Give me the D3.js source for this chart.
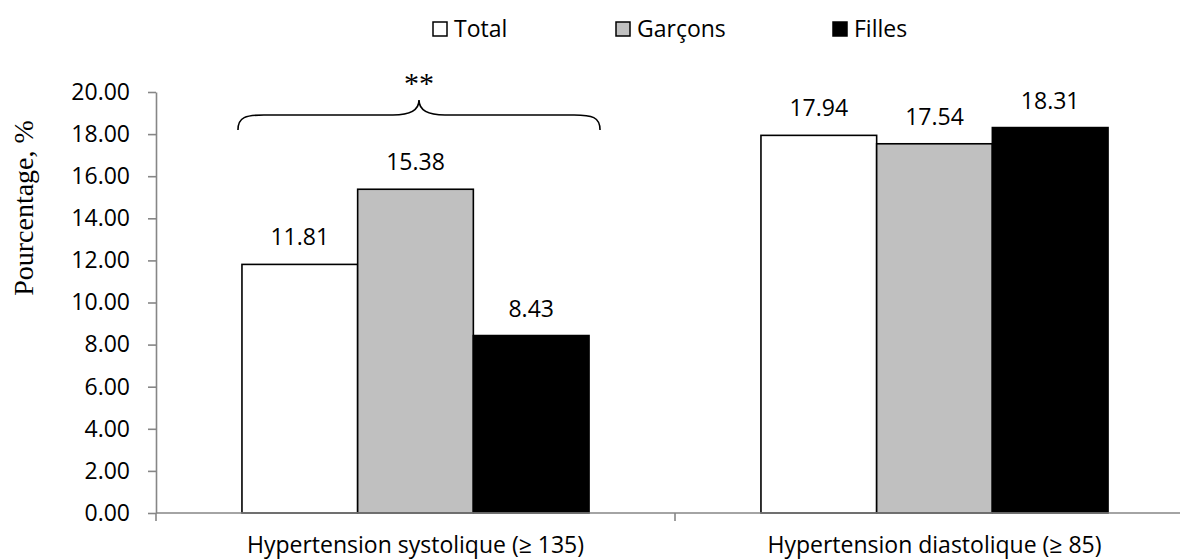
<!DOCTYPE html>
<html>
<head>
<meta charset="utf-8">
<script src="https://cdn.jsdelivr.net/npm/d3@7"></script>
<style>
  html, body { margin: 0; padding: 0; background: #fff; }
  svg { display: block; }
  .tick text, .lbl { font-family: "Open Sans", sans-serif; }
</style>
</head>
<body>
<svg id="chart" width="1180" height="560"></svg>
<script>
// Prevalence of hypertension by sex
const categories = ["Hypertension systolique (\u2265 135)", "Hypertension diastolique (\u2265 85)"];
const seriesNames = ["Total", "Garçons", "Filles"];
const totalValues = [11.81, 17.94];
const garconsValues = [15.38, 17.54];
const fillesValues = [8.43, 18.31];
const yTickValues = [0, 2, 4, 6, 8, 10, 12, 14, 16, 18, 20];
const yTitle = "Pourcentage, %";
const significance = "**";

const seriesValues = [totalValues, garconsValues, fillesValues];
const fills = { "Total": "#ffffff", "Garçons": "#c0c0c0", "Filles": "#000000" };

const svg = d3.select("#chart");
const plotLeft = 156, plotRight = 1194, plotTop = 92, plotBottom = 513;
const fontSize = 23;

const x0 = d3.scaleBand().domain(categories).range([plotLeft, plotRight]).paddingInner(0).paddingOuter(0);
const x1 = d3.scaleBand().domain(seriesNames).range([0, x0.bandwidth()]).paddingInner(0).paddingOuter(0.743);
const y = d3.scaleLinear().domain([0, 20]).range([plotBottom, plotTop]);

const rows = [];
categories.forEach((c, i) => {
  seriesNames.forEach((s, j) => rows.push({ cat: c, series: s, value: seriesValues[j][i] }));
});

// bars
svg.append("g").selectAll("rect").data(rows).join("rect")
  .attr("x", d => x0(d.cat) + x1(d.series))
  .attr("y", d => y(d.value))
  .attr("width", x1.bandwidth())
  .attr("height", d => y(0) - y(d.value))
  .attr("fill", d => fills[d.series])
  .attr("stroke", "#000")
  .attr("stroke-width", 1.6);

// value labels
svg.append("g").selectAll("text").data(rows).join("text")
  .attr("class", "lbl")
  .attr("x", d => x0(d.cat) + x1(d.series) + x1.bandwidth() / 2)
  .attr("y", d => y(d.value) - 19)
  .attr("text-anchor", "middle")
  .attr("font-size", fontSize)
  .attr("fill", "#000")
  .text(d => d.value.toFixed(2));

// y axis
const yAxis = svg.append("g").attr("transform", `translate(${plotLeft},0)`)
  .call(d3.axisLeft(y).tickValues(yTickValues).tickFormat(d3.format(".2f")).tickSize(8).tickSizeOuter(0).tickPadding(18));
yAxis.selectAll("path, line").attr("stroke", "#868686").attr("stroke-width", 1.6);
yAxis.selectAll("text").attr("font-size", fontSize).attr("fill", "#000");

// x axis: baseline, boundary ticks, category labels
const xAxis = svg.append("g").attr("transform", `translate(0,${plotBottom})`)
  .call(d3.axisBottom(x0).tickSize(0).tickPadding(24));
xAxis.select("path.domain").remove();
xAxis.selectAll("text").attr("font-size", fontSize).attr("fill", "#000");
const bounds = categories.map(c => x0(c)).concat([x0.range()[1]]);
xAxis.append("line").attr("x1", plotLeft).attr("x2", plotRight).attr("y1", 0).attr("y2", 0)
  .attr("stroke", "#868686").attr("stroke-width", 1.6);
xAxis.selectAll("line.bound").data(bounds).join("line").attr("class", "bound")
  .attr("x1", d => d).attr("x2", d => d).attr("y1", 0).attr("y2", 8)
  .attr("stroke", "#868686").attr("stroke-width", 1.6);

// y axis title
svg.append("text")
  .attr("transform", "translate(33,208) rotate(-90)")
  .attr("text-anchor", "middle")
  .attr("font-family", "'Liberation Serif', 'Times New Roman', serif")
  .attr("font-size", 28)
  .attr("fill", "#000")
  .text(yTitle);

// significance brace over the first group
const g0 = categories[0];
const bx1 = x0(g0) + x1(seriesNames[0]) - 4;
const bx2 = x0(g0) + x1(seriesNames[2]) + x1.bandwidth() + 11;
const bmid = (bx1 + bx2) / 2;
const yEnd = 130, yFlat = 115, yTip = 100;
const brace = d3.path();
brace.moveTo(bx1, yEnd);
brace.bezierCurveTo(bx1, yFlat + 2, bx1 + 8, yFlat, bx1 + 26, yFlat);
brace.lineTo(bmid - 26, yFlat);
brace.bezierCurveTo(bmid - 8, yFlat, bmid, yFlat - 5, bmid, yTip);
brace.bezierCurveTo(bmid, yFlat - 5, bmid + 8, yFlat, bmid + 26, yFlat);
brace.lineTo(bx2 - 26, yFlat);
brace.bezierCurveTo(bx2 - 8, yFlat, bx2, yFlat + 2, bx2, yEnd);
svg.append("path").attr("d", brace.toString())
  .attr("fill", "none").attr("stroke", "#000").attr("stroke-width", 1.6);
svg.append("text")
  .attr("x", bmid).attr("y", 93)
  .attr("text-anchor", "middle")
  .attr("font-family", "'Liberation Serif', 'Times New Roman', serif")
  .attr("font-size", 30)
  .attr("fill", "#000")
  .text(significance);

// legend
const legendX = [433, 616, 833];
const legend = svg.append("g").selectAll("g").data(seriesNames).join("g")
  .attr("transform", (d, i) => `translate(${legendX[i]},22)`);
legend.append("rect").attr("width", 14).attr("height", 14)
  .attr("fill", d => fills[d]).attr("stroke", "#000").attr("stroke-width", 1.5);
legend.append("text").attr("class", "lbl")
  .attr("x", 21).attr("y", 15)
  .attr("font-size", fontSize).attr("fill", "#000")
  .text(d => d);
</script>
</body>
</html>
